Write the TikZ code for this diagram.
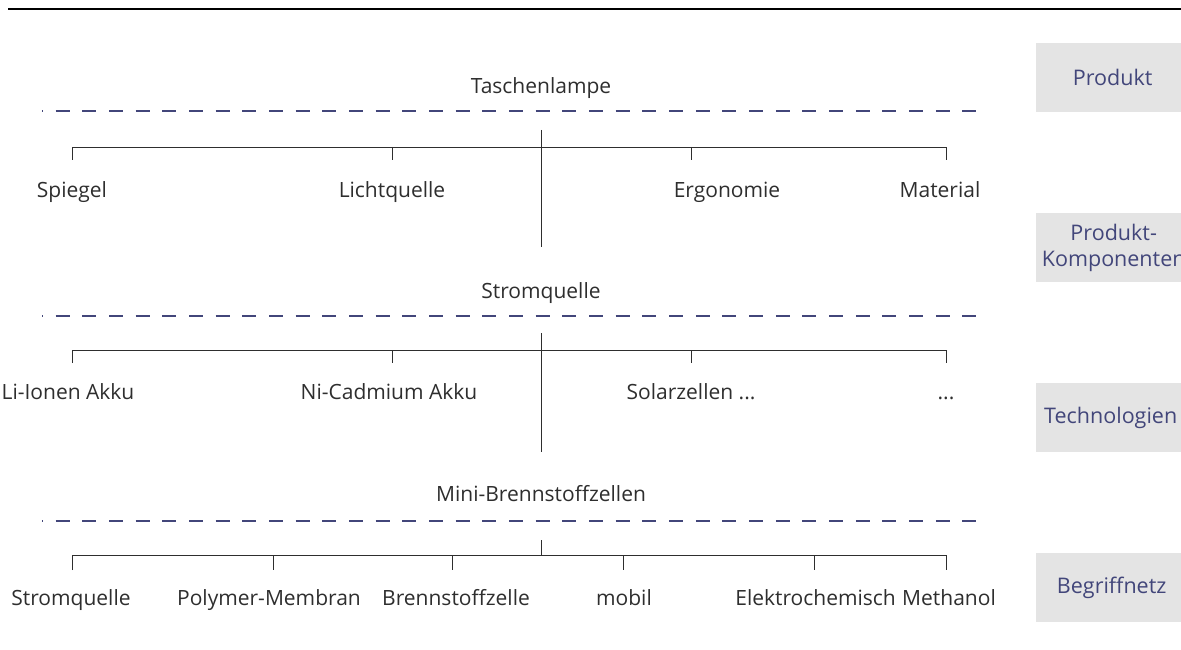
\documentclass[tikz,border=0pt]{standalone}
\usepackage{fontspec}
\setmainfont{Open Sans}
\definecolor{ink}{HTML}{2E2E2E}
\definecolor{navy}{HTML}{42467A}
\definecolor{boxgray}{HTML}{E4E4E4}
\tikzset{
  term/.style={anchor=base, inner sep=0pt, text=ink, font=\fontsize{21}{24}\selectfont},
  head/.style={term},
  levelbox/.style={fill=boxgray, minimum width=145pt, minimum height=69pt, inner sep=0pt,
    anchor=north west},
  leveltext/.style={inner sep=0pt, text=navy, align=center,
    font=\fontsize{21.5}{26}\selectfont},
  sep/.style={navy, line width=1.8pt, dash pattern=on 14pt off 12.67pt, dash phase=13pt},
  branch/.style={ink, line width=0.9pt},
}
\begin{document}
\begin{tikzpicture}[x=1pt, y=-1pt]
\useasboundingbox (0,0) rectangle (1181,650);

% rule at the top
\coordinate (topL) at (8,9);
\coordinate (topR) at (1181,9);
\draw[black, line width=1.6pt] (topL) -- (topR);

% level labels on the right
\node[levelbox] (lv1) at (1036,43) {};
\node[levelbox] (lv2) at (1036,213) {};
\node[levelbox] (lv3) at (1036,383) {};
\node[levelbox] (lv4) at (1036,553) {};
\node[leveltext] (lt1) at ([xshift=4pt]lv1.center) {Produkt};
\node[leveltext] (lt2) at ([xshift=5pt]lv2.center) {Produkt-\\Komponenten};
\node[leveltext] (lt3) at ([xshift=2pt]lv3.center) {Technologien};
\node[leveltext] (lt4) at ([xshift=3pt]lv4.center) {Begriffnetz};

% ---------- level 1: Taschenlampe ----------
\node[head] (t1) at (541,94) {Taschenlampe};
\coordinate (s1a) at (42,111); \coordinate (s1b) at (978,111);
\draw[sep] (s1a) -- (s1b);
\coordinate (c1top) at (541,130); \coordinate (c1bot) at (541,247);
\draw[branch] (c1top) -- (c1bot);
\coordinate (b1l) at (72,147); \coordinate (b1r) at (946,147);
\coordinate (b1s) at (392,147); \coordinate (b1e) at (691,147);
\draw[branch] (72,160) -- (b1l) -- (b1r) -- (946,160);
\draw[branch] (b1s) -- (392,160);
\draw[branch] (b1e) -- (691,160);
\node[term] (n11) at (72,197) {Spiegel};
\node[term] (n12) at (392,197) {Lichtquelle};
\node[term] (n13) at (727,197) {Ergonomie};
\node[term] (n14) at (940,197) {Material};

% ---------- level 2: Stromquelle ----------
\node[head] (t2) at (541,298) {Stromquelle};
\coordinate (s2a) at (42,316); \coordinate (s2b) at (978,316);
\draw[sep] (s2a) -- (s2b);
\coordinate (c2top) at (541,333); \coordinate (c2bot) at (541,452);
\draw[branch] (c2top) -- (c2bot);
\coordinate (b2l) at (72,350); \coordinate (b2r) at (946,350);
\coordinate (b2s) at (392,350); \coordinate (b2e) at (691,350);
\draw[branch] (72,363) -- (b2l) -- (b2r) -- (946,363);
\draw[branch] (b2s) -- (392,363);
\draw[branch] (b2e) -- (691,363);
\node[term] (n21) at (68,399) {Li-Ionen Akku};
\node[term] (n22) at (389,399) {Ni-Cadmium Akku};
\node[term] (n23) at (691,399) {Solarzellen ...};
\node[term] (n24) at (946,399) {...};

% ---------- level 3: Mini-Brennstoffzellen ----------
\node[head] (t3) at (541,501) {Mini-Brennstoffzellen};
\coordinate (s3a) at (42,521); \coordinate (s3b) at (978,521);
\draw[sep] (s3a) -- (s3b);
\coordinate (c3top) at (541,540); \coordinate (c3bot) at (541,555);
\draw[branch] (c3top) -- (c3bot);
\coordinate (b3l) at (72,555); \coordinate (b3r) at (946,555);
\draw[branch] (72,570) -- (b3l) -- (b3r) -- (946,570);
\foreach \x in {273,452,623,814} \draw[branch] (\x,555) -- (\x,570);
\node[term] (n31) at (71,605) {Stromquelle};
\node[term] (n32) at (269,605) {Polymer-Membran};
\node[term] (n33) at (456,605) {Brennstoffzelle};
\node[term] (n34) at (624,605) {mobil};
\node[term, anchor=base east] (n35) at (896,605) {Elektrochemisch};
\node[term, anchor=base west] (n36) at (902,605) {Methanol};
\end{tikzpicture}
\end{document}
